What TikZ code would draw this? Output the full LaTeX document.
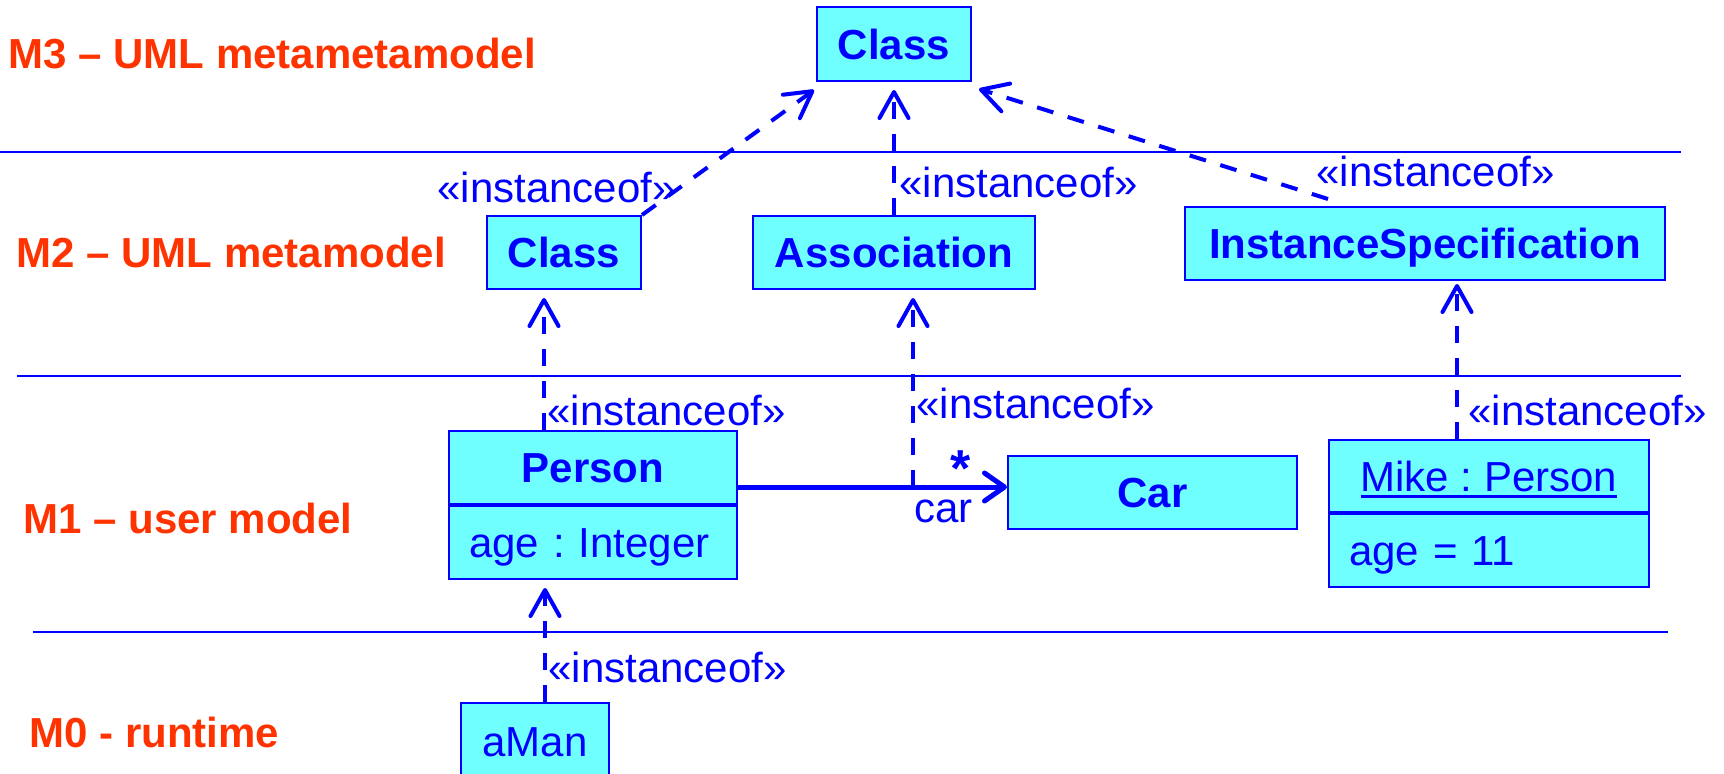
\documentclass[tikz,border=0pt]{standalone}
\usepackage{fontspec}
\setmainfont{Liberation Sans}
\usetikzlibrary{arrows.meta,calc}
\frenchspacing
\newlength\px \setlength\px{0.5pt}
\newcommand\dfont{\fontsize{21pt}{25pt}\selectfont}
\newcommand\ulname[1]{\leavevmode\vtop{\hbox{#1}\kern2pt\hrule height 1.3pt}}
\definecolor{umlblue}{RGB}{0,0,255}
\definecolor{umlfill}{RGB}{112,255,255}
\definecolor{levelred}{RGB}{255,51,0}
\begin{document}
\begin{tikzpicture}[x=0.5pt,y=-0.5pt,
  box/.style={draw=umlblue, line width=1pt, fill=umlfill, text=umlblue,
    inner sep=0pt, text height=15pt, text depth=0pt, align=center, font=\dfont},
  boldbox/.style={box, font=\dfont\bfseries},
  attrbox/.style={box, align=left, inner xsep=20\px, minimum height=73\px},
  level/.style={text=levelred, font=\dfont\bfseries, anchor=base west, inner sep=0pt},
  stereo/.style={text=umlblue, font=\dfont, anchor=base west, inner sep=0pt},
  sep/.style={draw=umlblue, line width=1.2pt},
  instof/.style={draw=umlblue, line width=2pt, dash pattern=on 8.5pt off 7.5pt,
    -{Straight Barb[length=13pt,width=14.5pt,round]}},
  assocline/.style={draw=umlblue, line width=2.5pt,
    -{Straight Barb[length=10pt,width=14pt,round]}},
]
\useasboundingbox (0,0) rectangle (1724,773);
\clip (0,0) rectangle (1724,773);
\fill[white] (0,0) rectangle (1724,773);

% level separators
\draw[sep] (0,152) -- (1681,152);
\draw[sep] (17,376) -- (1681,376);
\draw[sep] (33,632) -- (1668,632);

% level names
\node[level] (m3) at (8,68) {M3 – UML metametamodel};
\node[level] (m2) at (16,267) {M2 – UML metamodel};
\node[level] (m1) at (23,533) {M1 – user model};
\node[level] (m0) at (29,747) {M0 - runtime};

% M3
\node[boldbox, minimum width=154\px, minimum height=74\px] (c3) at (894,44) {Class};

% M2
\node[boldbox, minimum width=154\px, minimum height=73\px] (c2) at (564,252.5) {Class};
\node[boldbox, minimum width=282\px, minimum height=73\px] (assoc) at (894,252.5) {Association};
\node[boldbox, minimum width=480\px, minimum height=73\px] (inst) at (1425,243.5) {InstanceSpecification};

% M1
\node[boldbox, minimum width=288\px, minimum height=73\px] (personname) at (593,467.5) {Person};
\node[attrbox, text width=248\px, anchor=north] (personattr) at (personname.south) {age : Integer};
\node[boldbox, minimum width=289\px, minimum height=73\px] (car) at (1152.5,492.5) {Car};
\node[box, minimum width=320\px, minimum height=72\px] (mikename) at (1489,476) {\ulname{Mike : Person}};
\node[attrbox, text width=280\px, anchor=north] (mikeattr) at (mikename.south) {age = 11};

% M0
\node[box, minimum width=148\px, minimum height=76\px] (aman) at (535,741) {aMan};

% instance-of dependencies M2 -> M3
\draw[instof] (c2.north east) -- ([shift={(-2,8)}]c3.south west);
\draw[instof] (assoc.north) -- ([shift={(0,8)}]c3.south);
\draw[instof] ([shift={(144,-7)}]inst.north west) -- ([shift={(7,7)}]c3.south east);

% association Person -> Car
\coordinate (pe) at ([shift={(0,19.5)}]personname.east);
\draw[assocline] (pe) -- (pe -| car.west);
\node[text=umlblue, font=\fontsize{26pt}{30pt}\selectfont\bfseries, anchor=base west, inner sep=0pt] (mult) at (950,486) {*};
\node[stereo] (role) at (914,522) {car};

% instance-of dependencies M1 -> M2
\coordinate (tc2) at ([shift={(-20,8)}]c2.south);
\draw[instof] (tc2 |- personname.north) -- (tc2);
\coordinate (tas) at ([shift={(19,8)}]assoc.south);
\draw[instof] (tas |- pe) -- (tas);
\coordinate (tis) at ([shift={(32,3)}]inst.south);
\draw[instof] (tis |- mikename.north) -- (tis);

% instance-of dependency M0 -> M1
\coordinate (tp) at ([shift={(-48,8)}]personattr.south);
\draw[instof] (tp |- aman.north) -- (tp);

% stereotype labels
\node[stereo] (sa) at (437,202) {«instanceof»};
\node[stereo] (sb) at (899,197) {«instanceof»};
\node[stereo] (sc) at (1316,186) {«instanceof»};
\node[stereo] (sd) at (547,425) {«instanceof»};
\node[stereo] (se) at (916,418) {«instanceof»};
\node[stereo] (sf) at (1468,425) {«instanceof»};
\node[stereo] (sg) at (548,682) {«instanceof»};
\end{tikzpicture}
\end{document}
